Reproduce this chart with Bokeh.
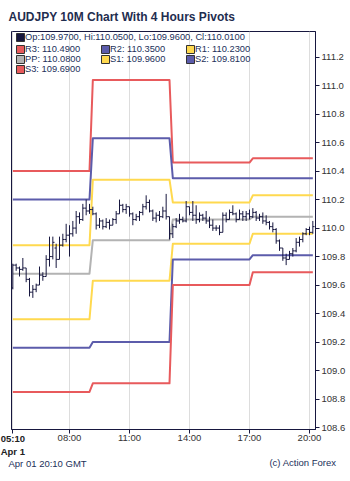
from bokeh.plotting import figure
from bokeh.models import (Range1d, FixedTicker, Label, Legend, LegendItem, PrintfTickFormatter,
                          LinearAxis)
from bokeh.embed import file_html
from bokeh.resources import INLINE

title_text = "AUDJPY 10M Chart With 4 Hours Pivots"
date_text = "Apr 01 20:10 GMT"
credit_text = "(c) Action Forex"

# 10-minute bars, first bar at 05:10 (minutes after midnight)
start_minute = 310
bar_minutes = 10

opens = [109.58, 109.74, 109.72, 109.71, 109.72, 109.64, 109.55, 109.57, 109.60, 109.67,
         109.66, 109.78, 109.80, 109.86, 109.78, 109.88, 109.92, 109.95, 109.96, 110.00,
         110.08, 110.06, 110.14, 110.12, 110.13, 110.10, 110.02, 110.05, 110.01, 110.04,
         110.02, 110.06, 110.10, 110.16, 110.13, 110.15, 110.10, 110.06, 110.08, 110.11,
         110.15, 110.18, 110.12, 110.07, 110.09, 110.08, 110.12, 110.08, 109.96, 110.01,
         110.05, 110.06, 110.05, 110.15, 110.11, 110.09, 110.06, 110.09, 110.07, 110.05,
         110.02, 110.00, 110.00, 109.97, 110.09, 110.06, 110.11, 110.10, 110.06, 110.10,
         110.08, 110.10, 110.08, 110.11, 110.07, 110.08, 110.05, 110.04, 110.01, 109.99,
         109.91, 109.86, 109.79, 109.78, 109.82, 109.84, 109.90, 109.92, 109.96, 109.99,
         109.97]
highs = [109.75, 109.75, 109.73, 109.79, 109.72, 109.65, 109.60, 109.61, 109.73, 109.69,
         109.81, 109.94, 109.94, 109.89, 109.94, 109.96, 110.03, 110.02, 110.05, 110.12,
         110.11, 110.17, 110.20, 110.17, 110.15, 110.11, 110.07, 110.06, 110.07, 110.06,
         110.07, 110.12, 110.20, 110.17, 110.17, 110.15, 110.11, 110.10, 110.12, 110.17,
         110.23, 110.20, 110.13, 110.11, 110.12, 110.15, 110.24, 110.08, 110.03, 110.07,
         110.10, 110.08, 110.19, 110.15, 110.19, 110.16, 110.11, 110.10, 110.12, 110.08,
         110.06, 110.02, 110.02, 110.11, 110.11, 110.13, 110.16, 110.11, 110.13, 110.12,
         110.12, 110.13, 110.14, 110.12, 110.10, 110.11, 110.09, 110.05, 110.04, 110.00,
         109.92, 109.86, 109.82, 109.84, 109.86, 109.93, 109.94, 109.97, 110.00, 110.01,
         110.05]
lows = [109.57, 109.70, 109.66, 109.70, 109.62, 109.52, 109.51, 109.55, 109.60, 109.63,
        109.66, 109.73, 109.78, 109.72, 109.78, 109.87, 109.90, 109.80, 109.94, 109.96,
        110.03, 110.05, 110.09, 110.10, 110.09, 109.99, 110.00, 109.99, 110.00, 109.99,
        110.02, 110.03, 110.10, 110.11, 110.10, 110.08, 110.02, 110.05, 110.05, 110.09,
        110.13, 110.11, 110.05, 110.04, 110.05, 110.07, 110.06, 109.92, 109.93, 110.00,
        110.03, 110.04, 110.04, 110.09, 110.05, 110.03, 110.04, 110.05, 110.03, 110.00,
        109.98, 109.98, 109.95, 109.97, 110.04, 110.06, 110.09, 110.04, 110.06, 110.05,
        110.05, 110.06, 110.07, 110.05, 110.05, 110.03, 110.02, 109.99, 109.97, 109.89,
        109.84, 109.77, 109.74, 109.78, 109.80, 109.83, 109.87, 109.90, 109.95, 109.95,
        109.96]
closes = [109.74, 109.72, 109.71, 109.72, 109.64, 109.55, 109.57, 109.60, 109.67, 109.66,
          109.78, 109.80, 109.90, 109.78, 109.88, 109.92, 109.95, 109.96, 110.00, 110.08,
          110.06, 110.14, 110.12, 110.13, 110.10, 110.02, 110.05, 110.01, 110.04, 110.02,
          110.06, 110.10, 110.16, 110.13, 110.15, 110.10, 110.06, 110.08, 110.11, 110.15,
          110.18, 110.12, 110.07, 110.09, 110.08, 110.12, 110.08, 109.96, 110.01, 110.05,
          110.06, 110.05, 110.15, 110.11, 110.09, 110.06, 110.09, 110.07, 110.05, 110.02,
          110.00, 110.00, 109.97, 110.09, 110.06, 110.11, 110.10, 110.06, 110.10, 110.08,
          110.10, 110.08, 110.11, 110.07, 110.08, 110.05, 110.04, 110.01, 109.99, 109.91,
          109.86, 109.79, 109.78, 109.82, 109.84, 109.90, 109.92, 109.96, 109.99, 109.97,
          110.01]

# 4-hour pivot periods (minutes after midnight of the first and last bar in each)
period_first = [310, 550, 790, 1030]
period_last = [540, 780, 1020, 1210]
r3 = [110.40, 111.04, 110.46, 110.49]
r2 = [110.20, 110.63, 110.35, 110.35]
r1 = [109.88, 110.34, 110.18, 110.23]
pp = [109.68, 109.915, 110.06, 110.08]
s1 = [109.36, 109.63, 109.89, 109.96]
s2 = [109.16, 109.20, 109.78, 109.81]
s3 = [108.85, 108.91, 109.60, 109.69]

tick_values = [310, 480, 660, 840, 1020, 1200]
tick_labels = ["05:10", "08:00", "11:00", "14:00", "17:00", "20:00"]
first_day_label = "Apr 1"

NAVY = "#17173f"
TEXT = "#22305a"
RED = "#e85a5c"
BLUE = "#5c5cab"
YELLOW = "#ffd94f"
GRAY = "#b3b3b3"
FONT = "Liberation Sans"

times = [start_minute + bar_minutes * i for i in range(len(closes))]

p = figure(width=350, height=481, output_backend="svg", toolbar_location=None,
           x_range=Range1d(306, 1218), y_range=Range1d(108.586, 111.38),
           y_axis_location="right",
           min_border_left=11, min_border_right=35, min_border_top=31, min_border_bottom=51)
p.background_fill_color = "white"
p.border_fill_color = "white"
p.outline_line_color = NAVY
p.outline_line_width = 1

p.title.text = title_text
p.title.text_font = FONT
p.title.text_font_size = "12px"
p.title.text_font_style = "bold"
p.title.text_color = "#1f2d4f"
p.title.align = "left"
p.title.offset = -3
p.title.standoff = 15
p.title.vertical_align = "bottom"

# main x axis: tick marks and normal labels
p.xaxis.ticker = FixedTicker(ticks=tick_values)
p.xaxis.major_label_overrides = {t: ("" if i == 0 else lab) for i, (t, lab) in enumerate(zip(tick_values, tick_labels))}
p.xaxis.minor_tick_line_color = None
p.xaxis.major_tick_out = 4
p.xaxis.major_tick_in = 0
p.xaxis.major_label_standoff = -2
p.xaxis.axis_line_color = NAVY
p.xaxis.major_tick_line_color = NAVY
p.xaxis.major_label_text_font = FONT
p.xaxis.major_label_text_font_size = "9.5px"
p.xaxis.major_label_text_color = "#333333"

# bold first-day label under the first tick
day_axis = LinearAxis(ticker=FixedTicker(ticks=[tick_values[0]]),
                      major_label_overrides={tick_values[0]: tick_labels[0] + "\n" + first_day_label},
                      axis_line_color=None, major_tick_line_color=None, minor_tick_line_color=None,
                      major_tick_out=0, major_tick_in=0, major_label_standoff=-13,
                      major_label_text_font=FONT, major_label_text_font_size="9.5px",
                      major_label_text_font_style="bold", major_label_text_color="#222222")
p.add_layout(day_axis, "below")

p.yaxis.ticker = FixedTicker(ticks=[108.6 + 0.2 * k for k in range(14)])
p.yaxis.formatter = PrintfTickFormatter(format="%.1f")
p.yaxis.minor_tick_line_color = None
p.yaxis.major_tick_out = 4
p.yaxis.major_tick_in = 0
p.yaxis.major_label_standoff = 2
p.yaxis.axis_line_color = NAVY
p.yaxis.major_tick_line_color = NAVY
p.yaxis.major_label_text_font = FONT
p.yaxis.major_label_text_font_size = "9.5px"
p.yaxis.major_label_text_color = "#333333"

p.xgrid.ticker = FixedTicker(ticks=tick_values)
p.xgrid.grid_line_color = "#dddddd"
p.ygrid.visible = False

# pivot lines
levels = [("R3", r3, RED), ("R2", r2, BLUE), ("R1", r1, YELLOW), ("PP", pp, GRAY),
          ("S1", s1, YELLOW), ("S2", s2, BLUE), ("S3", s3, RED)]
for name, vals, col in levels:
    xs, ys = [], []
    for a, b, v in zip(period_first, period_last, vals):
        xs += [a, b]
        ys += [v, v]
    p.line(xs, ys, line_color=col, line_width=2, line_join="round")

# OHLC bars
p.segment(x0=times, y0=lows, x1=times, y1=highs, line_color=NAVY, line_width=1)
p.segment(x0=[t - 5 for t in times], y0=opens, x1=times, y1=opens, line_color=NAVY, line_width=1)
p.segment(x0=times, y0=closes, x1=[t + 5 for t in times], y1=closes, line_color=NAVY, line_width=1)

# legend swatches (renderers with no visible position, used only for the legend)
nan = float("nan")
def swatch(color):
    return p.vbar(x=[nan], top=[nan], bottom=[nan], width=1, fill_color=color,
                  line_color="#333333", line_width=1)

ohlc_label = "Op:%.4f, Hi:%.4f, Lo:%.4f, Cl:%.4f" % (opens[-1], highs[-1], lows[-1], closes[-1])
legA = Legend(items=[LegendItem(label=ohlc_label, renderers=[swatch(NAVY)])],
              location=(2, 385), orientation="vertical")
legB = Legend(items=[LegendItem(label="%s: %.4f" % (n, v[-1]), renderers=[swatch(c)]) for n, v, c in levels],
              location=(2, 353), orientation="horizontal", ncols=3)
for lg in (legA, legB):
    lg.background_fill_alpha = 0
    lg.border_line_alpha = 0
    lg.padding = 2
    lg.margin = 0
    lg.spacing = 0
    lg.glyph_width = 10
    lg.glyph_height = 10
    lg.label_height = 10
    lg.label_standoff = 0
    lg.label_text_font = FONT
    lg.label_text_font_size = "9.3px"
    lg.label_text_color = TEXT
    lg.label_text_baseline = "middle"
legB.label_width = 75
p.add_layout(legA)
p.add_layout(legB)

# footer texts below the axes
def footer(x, y, text, align):
    return Label(x=x, y=y, x_units="screen", y_units="screen", text=text, text_font=FONT,
                 text_font_size="9.5px", text_color=TEXT, text_baseline="middle", text_align=align)

p.add_layout(footer(-3, 7, date_text, "left"), "below")
p.add_layout(footer(325, 19, credit_text, "right"), "below")

open("out.html", "w").write(file_html(p, INLINE))
